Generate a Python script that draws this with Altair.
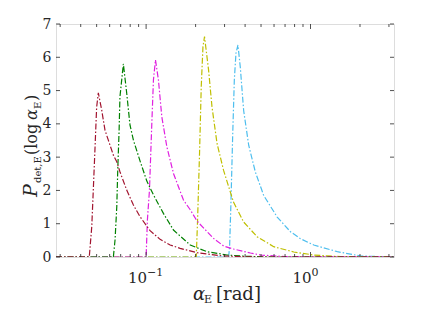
import altair as alt
import pandas as pd

# ---- data ----
names = ["s1", "s2", "s3", "s4", "s5"]
colors = ["#A2142F", "#008000", "#E020E0", "#BFBF00", "#4DBEEE"]

red_x = [0.0283, 0.0451, 0.0467, 0.0477, 0.0489, 0.0500, 0.0512, 0.0537, 0.0562, 0.0589, 0.0632,
         0.0663, 0.0693, 0.0762, 0.0837, 0.0919, 0.1057, 0.1216, 0.140, 0.161, 0.204, 0.295, 0.45, 3.22]
red_y = [0, 0, 0.91, 2.0, 3.3, 4.5, 4.93, 4.41, 3.81, 3.51, 3.06,
         2.86, 2.56, 2.01, 1.56, 1.21, 0.79, 0.53, 0.36, 0.26, 0.13, 0.03, 0, 0]

green_x = [0.0283, 0.0632, 0.0647, 0.0663, 0.0672, 0.0685, 0.0693, 0.0727, 0.0762, 0.0798, 0.0837,
           0.0919, 0.101, 0.111, 0.1274, 0.1467, 0.161, 0.1855, 0.2344, 0.3105, 0.411, 0.6, 3.22]
green_y = [0, 0, 0.51, 1.51, 2.61, 3.81, 4.81, 5.80, 4.92, 3.96, 3.51,
           2.88, 2.28, 1.86, 1.31, 0.81, 0.63, 0.36, 0.16, 0.06, 0.02, 0, 0]

mag_x = [0.0283, 0.100, 0.1018, 0.1048, 0.1083, 0.1108, 0.114, 0.1188, 0.1246, 0.1337, 0.1467,
         0.1687, 0.1855, 0.204, 0.257, 0.296, 0.340, 0.431, 0.496, 0.7, 3.22]
mag_y = [0, 0, 1.11, 2.01, 4.01, 5.32, 5.92, 5.32, 4.21, 3.31, 2.51,
         1.71, 1.42, 1.08, 0.56, 0.33, 0.24, 0.12, 0.06, 0.01, 0]

yel_x = [0.0283, 0.2018, 0.2056, 0.2113, 0.2164, 0.2217, 0.2266, 0.2398, 0.2516, 0.270, 0.296,
         0.340, 0.392, 0.473, 0.597, 0.791, 1.047, 1.52, 3.22]
yel_y = [0, 0, 1.11, 3.11, 5.11, 6.32, 6.62, 5.62, 4.51, 3.41, 2.6,
         1.65, 1.05, 0.61, 0.31, 0.15, 0.06, 0.01, 0]

cyan_x = [0.0283, 0.3177, 0.322, 0.328, 0.336, 0.344, 0.352, 0.362, 0.374, 0.392, 0.421,
          0.462, 0.519, 0.627, 0.755, 0.869, 1.047, 1.455, 2.02, 3.22]
cyan_y = [0, 0, 0.31, 1.61, 3.61, 5.32, 6.12, 6.37, 5.7, 4.4, 3.35,
          2.55, 1.85, 1.2, 0.76, 0.55, 0.36, 0.16, 0.03, 0]

x_major = [0.1, 1.0]
x_minor = [0.03, 0.04, 0.05, 0.06, 0.07, 0.08, 0.09, 0.2, 0.3, 0.4, 0.5, 0.6, 0.7, 0.8, 0.9, 2.0, 3.0]
x_exp = ["\u22121", "0"]
y_ticks = [0, 1, 2, 3, 4, 5, 6, 7]

# ---- build ----
W, H = 338, 233
FONT = "DejaVu Serif"
TXT = "#262626"
xdom = [0.0283, 3.22]

series = [(red_x, red_y), (green_x, green_y), (mag_x, mag_y), (yel_x, yel_y), (cyan_x, cyan_y)]
xsc = alt.Scale(type="log", domain=xdom, nice=False)
ysc = alt.Scale(domain=[0, 7], nice=False)
yaxis = alt.Axis(values=y_ticks, ticks=False, domain=False, grid=False,
                 labelFont=FONT, labelFontSize=14, labelColor=TXT,
                 labelOverlap=False, labelPadding=5, title=None)

# one layer per series, drawn from last to first so the red one ends on top
line_layers = []
for i in reversed(range(len(series))):
    xs, ys = series[i]
    d = pd.DataFrame({"a": xs, "p": ys})
    line_layers.append(
        alt.Chart(d).mark_line(strokeWidth=1.2, strokeDash=[6, 2, 1.5, 2], clip=True,
                               color=colors[i]).encode(
            x=alt.X("a:Q", scale=xsc, axis=None),
            y=alt.Y("p:Q", scale=ysc, axis=yaxis),
            order=alt.Order("a:Q"),
        )
    )

def xticks(vals, y0, y1):
    return alt.Chart(pd.DataFrame({"v": vals})).mark_rule(color=TXT, strokeWidth=0.8).encode(
        x=alt.X("v:Q", scale=xsc, axis=None), y=alt.value(y0), y2=alt.value(y1))

def yticks(x0, x1):
    return alt.Chart(pd.DataFrame({"v": y_ticks})).mark_rule(color=TXT, strokeWidth=0.8).encode(
        y=alt.Y("v:Q", scale=ysc, axis=yaxis), x=alt.value(x0), x2=alt.value(x1))

tick_layers = [
    xticks(x_major, H, H - 5), xticks(x_minor, H, H - 3),
    xticks(x_major, 0, 5), xticks(x_minor, 0, 3),
    yticks(0, 4), yticks(W, W - 4),
]

lab_df = pd.DataFrame({"v": x_major, "e": x_exp})
lab10 = alt.Chart(lab_df).mark_text(text="10", font=FONT, fontSize=15, color=TXT, align="right",
                                    baseline="alphabetic", dx=1).encode(
    x=alt.X("v:Q", scale=xsc, axis=None), y=alt.value(H + 26))
labexp = alt.Chart(lab_df).mark_text(font=FONT, fontSize=11, color=TXT, align="left",
                                     baseline="alphabetic", dx=1).encode(
    x=alt.X("v:Q", scale=xsc, axis=None), y=alt.value(H + 19), text="e:N")

one = pd.DataFrame({"k": [0]})

def txt(t, x, y, size, italic=False, angle=0):
    kw = dict(text=t, font=FONT, fontSize=size, color=TXT, align="left", baseline="alphabetic")
    if italic:
        kw["fontStyle"] = "italic"
    if angle:
        kw["angle"] = angle
    return alt.Chart(one).mark_text(**kw).encode(x=alt.value(x), y=alt.value(y))

titles = [
    # x title: alpha_E [rad]
    txt("\u03b1", 137, H + 43, 18, italic=True),
    txt("E", 148, H + 46, 11),
    txt("[rad]", 160, H + 43, 18),
    # y title: P_det,E(log alpha_E)
    txt("P", -19, 173, 19, italic=True, angle=270),
    txt("det,E", -15, 159, 10, angle=270),
    txt("(log", -19, 131, 16, angle=270),
    txt("\u03b1", -19, 96, 16, italic=True, angle=270),
    txt("E", -15, 85, 10, angle=270),
    txt(")", -19, 77, 16, angle=270),
]

chart = alt.layer(*line_layers, *tick_layers, lab10, labexp, *titles).properties(
    width=W, height=H,
    autosize=alt.AutoSizeParams(type="none"),
    padding={"left": 48, "top": 16, "right": 26, "bottom": 48},
).configure_view(stroke=TXT, strokeWidth=1).configure(background="white")

chart.save("out.html", embed_options={"renderer": "svg", "actions": False})
